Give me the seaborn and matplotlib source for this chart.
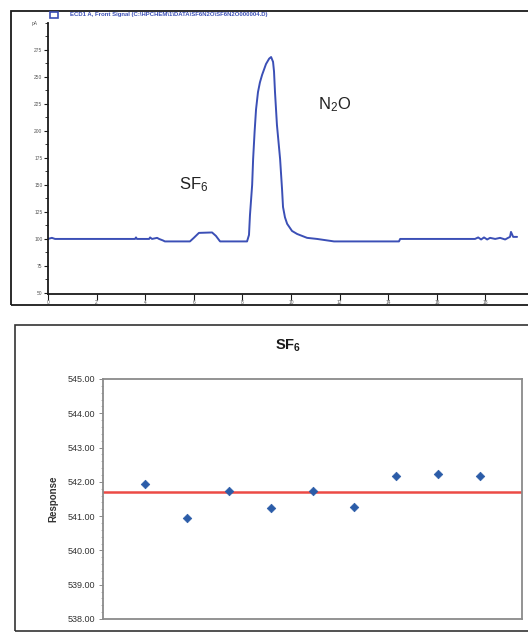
import numpy as np
import pandas as pd
import matplotlib
matplotlib.use("Agg")
import matplotlib.pyplot as plt
from matplotlib.patches import Rectangle
from matplotlib.ticker import MultipleLocator, AutoMinorLocator, FormatStrFormatter
import seaborn as sns

# ---------------- data ----------------
# chromatogram trace (minutes, signal)
time_min = [0.00, 0.16, 0.29, 3.58, 3.62, 3.66, 4.16, 4.20, 4.28, 4.49, 4.57,
            4.73, 4.81, 5.84, 6.00, 6.21, 6.75, 6.91, 7.08, 8.19, 8.27, 8.31,
            8.40, 8.44, 8.50, 8.56, 8.64, 8.72, 8.81, 8.97, 9.10, 9.18, 9.26,
            9.30, 9.34, 9.42, 9.55, 9.63, 9.67, 9.75, 9.84, 10.04, 10.25,
            10.66, 11.07, 11.77, 14.44, 14.49, 17.57, 17.70, 17.82, 17.94,
            18.07, 18.19, 18.40, 18.60, 18.81, 18.93, 19.01, 19.05, 19.14, 19.30]
signal = [100.0, 101.0, 100.0, 100.0, 101.4, 100.0, 100.0, 101.4, 100.0, 101.0, 100.0,
          98.6, 97.7, 97.7, 101.0, 105.6, 106.0, 102.8, 97.7, 97.7, 103.7, 122.0,
          150.0, 174.0, 199.0, 220.0, 236.0, 245.0, 252.0, 262.0, 267.0, 268.5, 264.0,
          255.0, 236.0, 205.6, 174.0, 146.0, 129.6, 120.0, 114.0, 107.4, 104.6,
          101.0, 100.0, 97.7, 97.7, 100.0, 100.0, 101.4, 99.5, 101.4, 99.5, 101.0,
          100.0, 101.0, 99.5, 101.0, 101.9, 106.5, 101.9, 101.9]
chrom_yticks = [50, 75, 100, 125, 150, 175, 200, 225, 250, 275]
chrom_xticks = [0, 2, 4, 6, 8, 10, 12, 14, 16, 18]
legend_text = "ECD1 A, Front Signal (C:\\HPCHEM\\1\\DATA\\SF6N2O\\SF6N2O000004.D)"

# SF6 repeatability
run = [1, 2, 3, 4, 5, 6, 7, 8, 9]
response = [541.93, 540.96, 541.72, 541.23, 541.72, 541.28, 542.18, 542.23, 542.18]
resp_ticks = [538, 539, 540, 541, 542, 543, 544, 545]

# ---------------- figure ----------------
sns.set_theme(style="white")
plt.rcParams["font.family"] = ["Liberation Sans", "DejaVu Sans"]
plt.rcParams["mathtext.fontset"] = "custom"
plt.rcParams["mathtext.rm"] = "Liberation Sans"
plt.rcParams["mathtext.bf"] = "Liberation Sans:bold"
plt.rcParams["mathtext.it"] = "Liberation Sans"

W, H = 528, 632
fig = plt.figure(figsize=(W / 100, H / 100), dpi=100)
fig.patch.set_facecolor("white")

def fbox(x0, y0, x1, y1):
    return [x0 / W, 1 - y1 / H, (x1 - x0) / W, (y1 - y0) / H]

# outer frames
fig.patches.append(Rectangle((11 / W, 1 - 305 / H), (540 - 11) / W, (305 - 11) / H,
                             transform=fig.transFigure, fill=False, ec="#1a1a1a", lw=1.3))
fig.patches.append(Rectangle((15 / W, 1 - 631 / H), (540 - 15) / W, (631 - 325) / H,
                             transform=fig.transFigure, fill=False, ec="#333333", lw=1.2))

# ---------------- top: chromatogram ----------------
ax1 = fig.add_axes(fbox(48, 23, 528, 294))
df_chrom = pd.DataFrame({"time": time_min, "signal": signal})
sns.lineplot(data=df_chrom, x="time", y="signal", ax=ax1, color="#3b4fb6", lw=1.4,
             estimator=None, sort=False)
ax1.set_xlim(0, 19.75)
ax1.set_ylim(49, 300)
ax1.set_xlabel("")
ax1.set_ylabel("")
for s in ["top", "right"]:
    ax1.spines[s].set_visible(False)
for s in ["left", "bottom"]:
    ax1.spines[s].set_color("#1a1a1a")
    ax1.spines[s].set_linewidth(1.3)
ax1.set_yticks(chrom_yticks)
ax1.set_yticklabels([str(v) for v in chrom_yticks])
ax1.yaxis.set_minor_locator(MultipleLocator(12.5))
ax1.set_xticks(chrom_xticks)
ax1.set_xticklabels([str(v) for v in chrom_xticks])
ax1.tick_params(axis="y", which="major", direction="out", length=3, width=0.8,
                labelsize=3.5, labelcolor="#555555", color="#1a1a1a", pad=1, left=True)
ax1.tick_params(axis="y", which="minor", direction="out", length=2, width=0.6,
                color="#1a1a1a", left=True)
ax1.tick_params(axis="x", which="major", direction="out", length=4, width=0.8,
                labelsize=3.5, labelcolor="#555555", color="#1a1a1a", pad=0.5, bottom=True)
ax1.text(-0.028, 1.0, "pA", transform=ax1.transAxes, fontsize=3.5, color="#555555",
         ha="center", va="center")
ax1.text(11.8, 224, r"N$_2$O", fontsize=12, color="#222222", ha="center", va="center")
ax1.text(6.0, 150, r"SF$_6$", fontsize=12, color="#222222", ha="center", va="center")

# legend swatch + text above the axes
fig.patches.append(Rectangle((50 / W, 1 - 18 / H), 8 / W, 6 / H, transform=fig.transFigure,
                             fill=False, ec="#3b4fb6", lw=1.2))
fig.text(70 / W, 1 - 14.5 / H, legend_text, fontsize=4.3, color="#3b4fb6",
         fontweight="bold", ha="left", va="center")

# ---------------- bottom: SF6 response ----------------
ax2 = fig.add_axes(fbox(103, 379, 522, 619))
df_resp = pd.DataFrame({"run": run, "response": response})
sns.scatterplot(data=df_resp, x="run", y="response", ax=ax2, marker="D", s=19,
                color="#2b5ca8", edgecolor="#2b5ca8", linewidth=0.5, zorder=3)
ax2.axhline(np.mean(response), color="#ec4a45", lw=1.8, zorder=2)
ax2.set_xlim(0, 10)
ax2.set_ylim(538, 545)
ax2.set_xticks([])
ax2.set_yticks(resp_ticks)
ax2.yaxis.set_major_formatter(FormatStrFormatter("%.2f"))
ax2.yaxis.set_minor_locator(AutoMinorLocator(5))
ax2.tick_params(axis="y", which="major", direction="out", length=3, width=0.7,
                labelsize=6.5, labelcolor="#333333", color="#8a8a8a", pad=3, left=True)
ax2.tick_params(axis="y", which="minor", direction="out", length=1.5, width=0.5,
                color="#9a9a9a", left=True)
for s in ax2.spines.values():
    s.set_color("#8a8a8a")
    s.set_linewidth(1.3)
ax2.set_xlabel("")
ax2.set_ylabel("Response", fontsize=7, fontweight="bold", color="#333333", labelpad=6)
fig.text(288 / W, 1 - 346 / H, r"SF$_\mathbf{6}$", fontsize=10.5, fontweight="bold",
         color="#1a1a1a", ha="center", va="center")

fig.savefig("out.png", dpi=100, facecolor="white")
